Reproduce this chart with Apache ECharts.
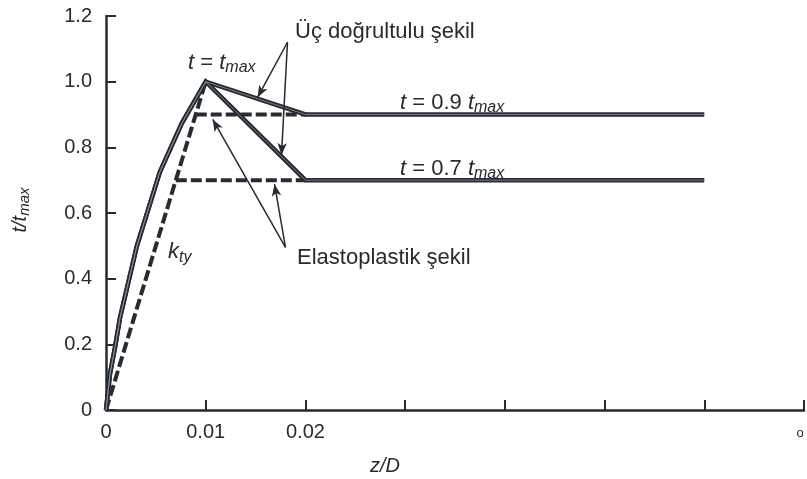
<!DOCTYPE html>
<html>
<head>
<meta charset="utf-8">
<script src="https://cdn.jsdelivr.net/npm/echarts@6/dist/echarts.min.js"></script>
<style>html,body{margin:0;padding:0;background:#fff;}#c{width:807px;height:479px;}</style>
</head>
<body>
<div id="c"></div>
<script>
// ---- data ----
const xTicks = [0, 0.01, 0.02, 0.03, 0.04, 0.05, 0.06, 0.07];
const xTickLabels = ['0', '0.01', '0.02', '', '', '', '', ''];
const yTicks = [0, 0.2, 0.4, 0.6, 0.8, 1.0, 1.2];
const yTickLabels = ['0', '0.2', '0.4', '0.6', '0.8', '1.0', '1.2'];

// three-segment (Üç doğrultulu) curves
const triHigh_z = [0, 0.0004, 0.0009, 0.0014, 0.0031, 0.0054, 0.0076, 0.01, 0.02, 0.06];
const triHigh_t = [0, 0.11, 0.19, 0.28, 0.50, 0.725, 0.873, 1.0, 0.9, 0.9];
const triLow_z  = [0, 0.0004, 0.0009, 0.0014, 0.0031, 0.0054, 0.0076, 0.01, 0.02, 0.06];
const triLow_t  = [0, 0.11, 0.19, 0.28, 0.50, 0.725, 0.873, 1.0, 0.7, 0.7];

// elastoplastic (dashed)
const kty_z  = [0, 0.01];
const kty_t  = [0, 1.0];
const ep09_z = [0.009, 0.02];
const ep09_t = [0.9, 0.9];
const ep07_z = [0.007, 0.02];
const ep07_t = [0.7, 0.7];

// annotation arrows [from z, from t, to z, to t]
const arrows = [
  [0.0182, 1.12, 0.0152, 0.952],
  [0.0182, 1.12, 0.0176, 0.777],
  [0.0180, 0.495, 0.0107, 0.885],
  [0.0180, 0.495, 0.0169, 0.688]
];

const pts = (zs, ts) => zs.map((z, i) => [z, ts[i]]);
const INK = '#262a31';
const FONT = '"Liberation Sans", Arial, sans-serif';

function solid(name, zs, ts) {
  return [
    { name, type: 'line', data: pts(zs, ts), symbol: 'none', silent: true,
      lineStyle: { color: INK, width: 4.5, join: 'miter' }, z: 3 },
    { name: name + '-core', type: 'line', data: pts(zs, ts), symbol: 'none', silent: true,
      lineStyle: { color: '#8d939a', width: 0.8 }, z: 4 }
  ];
}
function dashed(name, zs, ts, extra) {
  return Object.assign({ name, type: 'line', data: pts(zs, ts), symbol: 'none', silent: true,
    lineStyle: { color: INK, width: 4, type: [11, 4] }, z: 2 }, extra || {});
}
const richT = (sub) => ({
  i: { fontSize: 22, fontStyle: 'italic', fontFamily: FONT, fill: INK },
  n: { fontSize: 22, fontFamily: FONT, fill: INK },
  s: { fontSize: 16, fontStyle: 'italic', fontFamily: FONT, fill: INK, padding: [sub, 0, 0, 0] }
});

const chart = echarts.init(document.getElementById('c'), null, { renderer: 'canvas' });
const option = {
  animation: false,
  backgroundColor: '#fff',
  textStyle: { fontFamily: FONT },
  grid: { left: 106, right: 1, top: 16, bottom: 69, containLabel: false },
  xAxis: {
    type: 'value', min: 0, max: 0.07, interval: 0.01,
    axisLine: { show: true, onZero: false, lineStyle: { color: INK, width: 2.5 } },
    axisTick: { show: true, inside: true, length: 10, lineStyle: { color: INK, width: 2 } },
    splitLine: { show: false },
    axisLabel: {
      color: INK, fontSize: 20, fontFamily: FONT, margin: 12,
      formatter: v => { const i = xTicks.findIndex(t => Math.abs(t - v) < 1e-9); return i >= 0 ? xTickLabels[i] : ''; }
    }
  },
  yAxis: {
    type: 'value', min: 0, max: 1.2, interval: 0.2,
    axisLine: { show: true, onZero: false, lineStyle: { color: INK, width: 2.5 } },
    axisTick: { show: true, inside: true, length: 10, lineStyle: { color: INK, width: 2 } },
    splitLine: { show: false },
    axisLabel: {
      color: INK, fontSize: 20, fontFamily: FONT, margin: 14,
      formatter: v => { const i = yTicks.findIndex(t => Math.abs(t - v) < 1e-9); return i >= 0 ? yTickLabels[i] : ''; }
    }
  },
  series: [
    dashed('kty', kty_z, kty_t, {
      markLine: {
        silent: true, animation: false, symbol: ['none', 'arrow'], symbolSize: [7, 12],
        label: { show: false },
        lineStyle: { color: INK, width: 1.5, type: 'solid' },
        data: arrows.map(a => [{ coord: [a[0], a[1]] }, { coord: [a[2], a[3]] }])
      }
    }),
    dashed('ep09', ep09_z, ep09_t),
    dashed('ep07', ep07_z, ep07_t),
    ...solid('tri09', triHigh_z, triHigh_t),
    ...solid('tri07', triLow_z, triLow_t)
  ],
  graphic: [
    { type: 'text', x: 20, y: 210, rotation: Math.PI / 2, style: {
        text: '{i|t/t}{s|max}', fill: INK, align: 'center', verticalAlign: 'middle',
        rich: { i: { fontSize: 20, fontStyle: 'italic', fontFamily: FONT, fill: INK },
                s: { fontSize: 15, fontStyle: 'italic', fontFamily: FONT, fill: INK, padding: [9, 0, 0, 0] } } } },
    { type: 'text', x: 385, y: 466, style: {
        text: 'z/D', fill: INK, font: 'italic 20px ' + FONT, align: 'center', verticalAlign: 'middle' } },
    { type: 'text', x: 800, y: 433, style: {
        text: 'o', fill: INK, font: '13px ' + FONT, align: 'center', verticalAlign: 'middle' } },
    { type: 'text', x: 188, y: 63, style: {
        text: '{i|t}{n| = }{i|t}{s|max}', fill: INK, align: 'left', verticalAlign: 'middle', rich: richT(9) } },
    { type: 'text', x: 295, y: 32, style: {
        text: 'Üç doğrultulu şekil', fill: INK, font: '22px ' + FONT, align: 'left', verticalAlign: 'middle' } },
    { type: 'text', x: 400, y: 103, style: {
        text: '{i|t}{n| = 0.9 }{i|t}{s|max}', fill: INK, align: 'left', verticalAlign: 'middle', rich: richT(9) } },
    { type: 'text', x: 400, y: 169, style: {
        text: '{i|t}{n| = 0.7 }{i|t}{s|max}', fill: INK, align: 'left', verticalAlign: 'middle', rich: richT(9) } },
    { type: 'text', x: 168, y: 252, style: {
        text: '{i|k}{s|ty}', fill: INK, align: 'left', verticalAlign: 'middle', rich: richT(11) } },
    { type: 'text', x: 297, y: 258, style: {
        text: 'Elastoplastik şekil', fill: INK, font: '22px ' + FONT, align: 'left', verticalAlign: 'middle' } }
  ]
};
chart.setOption(option);
</script>
</body>
</html>
